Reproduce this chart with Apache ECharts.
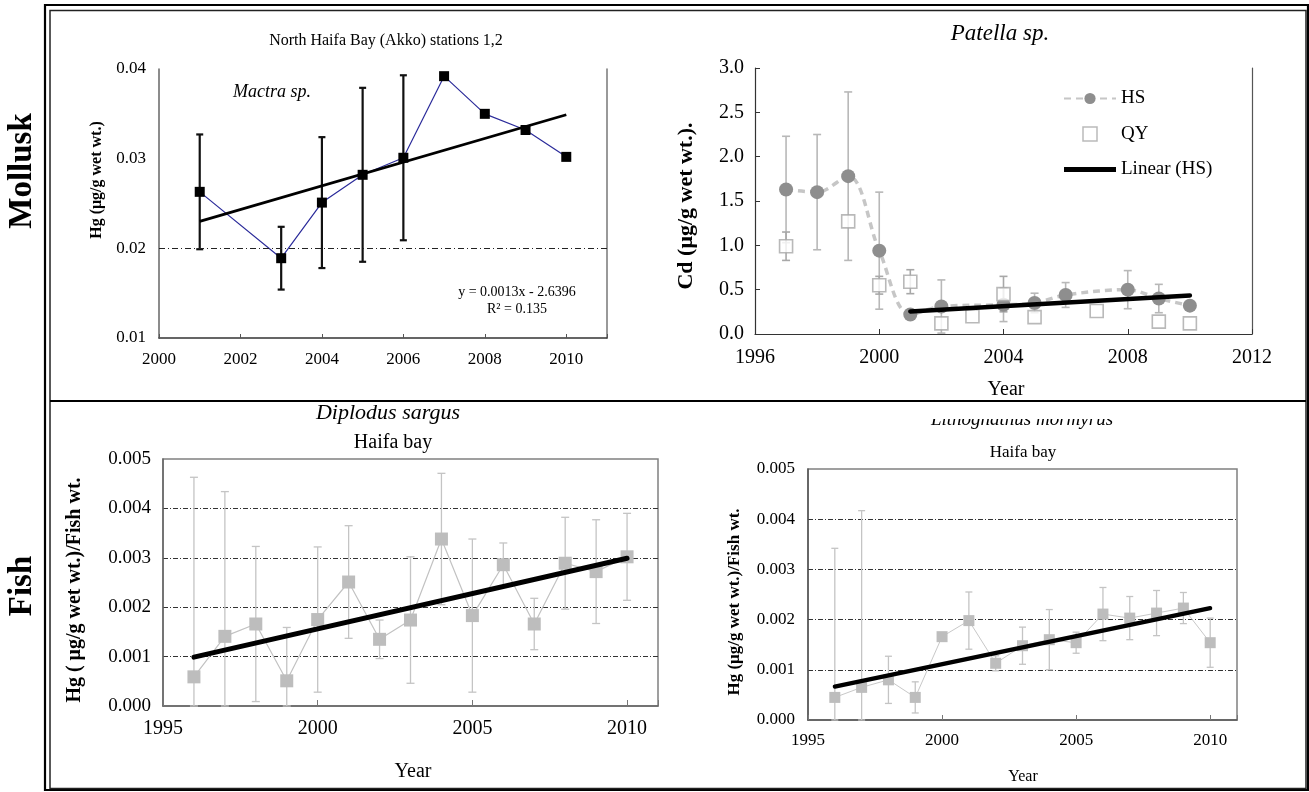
<!DOCTYPE html>
<html>
<head>
<meta charset="utf-8">
<title>Hg / Cd trends - Mollusk and Fish</title>
<script src="https://cdn.jsdelivr.net/npm/echarts@6/dist/echarts.min.js"></script>
<style>
    html, body { margin: 0; padding: 0; background: #fff; }
    #chart { width: 1309px; height: 792px; }
</style>
</head>
<body>
<div id="chart"></div>
<script>
    // Mactra sp. - North Haifa Bay (Akko) stations 1,2
    var mactraYears = [2001, 2003, 2004, 2005, 2006, 2007, 2008, 2009, 2010];
    var mactraHg    = [0.0263, 0.0189, 0.0251, 0.0282, 0.0301, 0.0392, 0.0350, 0.0332, 0.0302];
    var mactraSd    = [0.0064, 0.0035, 0.0073, 0.0097, 0.0092, null, null, null, null];
    var mactraTrend = [[2001, 0.0230], [2010, 0.0349]];

    // Patella sp. - Cd
    var hsYears = [1997, 1998, 1999, 2000, 2001, 2002, 2004, 2005, 2006, 2008, 2009, 2010];
    var hsCd    = [1.63, 1.60, 1.78, 0.94, 0.22, 0.31, 0.33, 0.35, 0.44, 0.50, 0.40, 0.32];
    var hsSd    = [0.60, 0.65, 0.95, 0.66, null, 0.30, 0.19, 0.11, 0.14, 0.215, 0.16, null];
    var qyYears = [1997, 1999, 2000, 2001, 2002, 2003, 2004, 2005, 2007, 2009, 2010];
    var qyCd    = [0.99, 1.27, 0.55, 0.59, 0.12, 0.20, 0.45, 0.19, 0.26, 0.14, 0.12];
    var qySd    = [0.16, null, 0.10, 0.135, null, null, 0.20, null, null, null, null];
    var hsTrend = [[2001, 0.255], [2010, 0.435]];

    // Fish - Haifa bay
    var fishYears = [1996, 1997, 1998, 1999, 2000, 2001, 2002, 2003, 2004, 2005, 2006, 2007, 2008, 2009, 2010];
    var sargusHg  = [0.00059, 0.00141, 0.00166, 0.00051, 0.00175, 0.00251, 0.00135, 0.00174, 0.00338, 0.00183, 0.00286, 0.00166, 0.00289, 0.00272, 0.00302];
    var sargusSd  = [0.00404, 0.00293, 0.00157, 0.00108, 0.00147, 0.00114, 0.00039, 0.00128, 0.00133, 0.00155, 0.00044, 0.00052, 0.00093, 0.00105, 0.00088];
    var sargusTrend = [[1996, 0.00099], [2010, 0.00299]];
    var mormyrusHg = [0.00045, 0.00065, 0.00080, 0.00045, 0.00166, 0.00198, 0.00113, 0.00148, 0.00160, 0.00154, 0.00211, 0.00203, 0.00213, 0.00223, 0.00154];
    var mormyrusSd = [0.00297, 0.00352, 0.00047, 0.00031, null, 0.00057, 0.00015, 0.00037, 0.00060, 0.00021, 0.00053, 0.00043, 0.00045, 0.00031, 0.00049];
    var mormyrusTrend = [[1996, 0.000665], [2010, 0.002228]];

    var FONT = '"Liberation Serif", "DejaVu Serif", serif';

    function pairs(xs, ys) {
        var out = [];
        for (var i = 0; i < xs.length; i++) {
            if (ys[i] != null) out.push([xs[i], ys[i]]);
        }
        return out;
    }

    // [x, low, high] for error bars, low clipped to the axis bottom
    function errData(xs, ys, sd, floor) {
        var out = [];
        for (var i = 0; i < xs.length; i++) {
            if (sd[i] == null || ys[i] == null) continue;
            out.push([xs[i], Math.max(floor, ys[i] - sd[i]), ys[i] + sd[i]]);
        }
        return out;
    }

    function errRender(capW, color, width) {
        return function (params, api) {
            var x = api.value(0);
            var top = api.coord([x, api.value(2)]);
            var bot = api.coord([x, api.value(1)]);
            var st = { stroke: color, lineWidth: width };
            return {
                type: 'group',
                children: [
                    { type: 'line', shape: { x1: top[0], y1: top[1], x2: bot[0], y2: bot[1] }, style: st },
                    { type: 'line', shape: { x1: top[0] - capW / 2, y1: top[1], x2: top[0] + capW / 2, y2: top[1] }, style: st },
                    { type: 'line', shape: { x1: bot[0] - capW / 2, y1: bot[1], x2: bot[0] + capW / 2, y2: bot[1] }, style: st }
                ]
            };
        };
    }

    function yearLabel(step, start) {
        return function (v) { return ((v - start) % step === 0) ? String(v) : ''; };
    }

    function txt(x, y, text, font, extra) {
        var el = {
            type: 'text', x: x, y: y, z: 50,
            style: {
                text: text, font: font, fill: '#000',
                align: 'center', verticalAlign: 'middle',
                textAlign: 'center', textVerticalAlign: 'middle'
            }
        };
        if (extra) { for (var k in extra) el[k] = extra[k]; }
        return el;
    }

    var chartDom = document.getElementById('chart');
    var myChart = echarts.init(chartDom, null, { renderer: 'canvas' });

    var axisText = function (size) { return { fontFamily: FONT, fontSize: size, color: '#000' }; };

    var option = {
        animation: false,
        backgroundColor: '#fff',
        legend: {
            data: [
                { name: 'HS' },
                { name: 'QY', icon: 'path://M0,0L10,0L10,10L0,10Z', itemStyle: { color: '#fff', borderColor: '#a8a8a8', borderWidth: 1.5 } },
                { name: 'Linear (HS)', icon: 'path://M0,0L52,0L52,5L0,5Z', itemStyle: { color: '#000', borderWidth: 0 } }
            ],
            orient: 'vertical',
            left: 1058,
            top: 84,
            itemWidth: 52,
            itemHeight: 14,
            itemGap: 16.5,
            selectedMode: false,
            textStyle: { fontFamily: FONT, fontSize: 19, color: '#000', lineHeight: 14 }
        },
        grid: [
            { left: 159, top: 69, width: 448, height: 269 },
            { left: 755, top: 68, width: 497, height: 266 },
            { left: 163, top: 459, width: 495, height: 247, show: true, borderColor: '#808080', borderWidth: 1.5, backgroundColor: 'transparent' },
            { left: 808, top: 469, width: 429, height: 251, show: true, borderColor: '#808080', borderWidth: 1.5, backgroundColor: 'transparent' }
        ],
        xAxis: [
            {
                gridIndex: 0, type: 'value', min: 2000, max: 2011, interval: 2,
                axisLine: { lineStyle: { color: '#333', width: 1.5 } },
                axisTick: { inside: true, length: 4, lineStyle: { color: '#555' } },
                axisLabel: Object.assign(axisText(17), { margin: 13, formatter: yearLabel(2, 2000) }),
                splitLine: { show: false }
            },
            {
                gridIndex: 1, type: 'value', min: 1996, max: 2012, interval: 4,
                axisLine: { lineStyle: { color: '#333', width: 1.2 } },
                axisTick: { inside: true, length: 5, lineStyle: { color: '#333' } },
                axisLabel: Object.assign(axisText(20), { margin: 14, formatter: yearLabel(4, 1996) }),
                splitLine: { show: false }
            },
            {
                gridIndex: 2, type: 'value', min: 1995, max: 2011, interval: 5,
                axisLine: { lineStyle: { color: '#666', width: 1.5 } },
                axisTick: { inside: true, length: 6, lineStyle: { color: '#777' } },
                axisLabel: Object.assign(axisText(20), { margin: 13, formatter: yearLabel(5, 1995) }),
                splitLine: { show: false }
            },
            {
                gridIndex: 3, type: 'value', min: 1995, max: 2011, interval: 5,
                axisLine: { lineStyle: { color: '#555', width: 1.5 } },
                axisTick: { inside: true, length: 5, lineStyle: { color: '#777' } },
                axisLabel: Object.assign(axisText(17), { margin: 12, formatter: yearLabel(5, 1995) }),
                splitLine: { show: false }
            }
        ],
        yAxis: [
            {
                gridIndex: 0, type: 'value', min: 0.01, max: 0.04, interval: 0.01,
                axisLine: { show: true, lineStyle: { color: '#666', width: 1.5 } },
                axisTick: { show: false },
                axisLabel: Object.assign(axisText(17), { margin: 13, formatter: function (v) { return v.toFixed(2); } }),
                splitLine: { show: false }
            },
            {
                gridIndex: 1, type: 'value', min: 0, max: 3, interval: 0.5,
                axisLine: { show: true, lineStyle: { color: '#333', width: 1.2 } },
                axisTick: { show: true, inside: true, length: 5, lineStyle: { color: '#333' } },
                axisLabel: Object.assign(axisText(20), { margin: 11, formatter: function (v) { return v.toFixed(1); } }),
                splitLine: { show: false }
            },
            {
                gridIndex: 2, type: 'value', min: 0, max: 0.005, interval: 0.001,
                axisLine: { show: true, lineStyle: { color: '#666', width: 1.5 } },
                axisTick: { show: false },
                axisLabel: Object.assign(axisText(19), { margin: 12, formatter: function (v) { return v.toFixed(3); } }),
                splitLine: { show: true, showMinLine: false, showMaxLine: false, lineStyle: { color: '#333', width: 1, type: [5, 2, 1, 2] } }
            },
            {
                gridIndex: 3, type: 'value', min: 0, max: 0.005, interval: 0.001,
                axisLine: { show: true, lineStyle: { color: '#555', width: 1.5 } },
                axisTick: { show: false },
                axisLabel: Object.assign(axisText(17), { margin: 13, formatter: function (v) { return v.toFixed(3); } }),
                splitLine: { show: true, showMinLine: false, showMaxLine: false, lineStyle: { color: '#333', width: 1, type: [5, 2, 1, 2] } }
            },
            {
                gridIndex: 0, type: 'value', position: 'right', min: 0.01, max: 0.04,
                axisLine: { show: true, lineStyle: { color: '#777', width: 1.5 } },
                axisTick: { show: false }, axisLabel: { show: false }, splitLine: { show: false }
            },
            {
                gridIndex: 1, type: 'value', position: 'right', min: 0, max: 3,
                axisLine: { show: true, lineStyle: { color: '#555', width: 1.2 } },
                axisTick: { show: false }, axisLabel: { show: false }, splitLine: { show: false }
            }
        ],
        series: [
            // ---- Mactra sp.
            {
                name: 'mactraErr', type: 'custom', xAxisIndex: 0, yAxisIndex: 0, z: 3, silent: true,
                renderItem: errRender(7, '#111', 2.2),
                encode: { x: 0, y: [1, 2] },
                data: errData(mactraYears, mactraHg, mactraSd, 0.01)
            },
            {
                name: 'Mactra sp.', type: 'line', xAxisIndex: 0, yAxisIndex: 0, z: 4,
                symbol: 'rect', symbolSize: 10,
                itemStyle: { color: '#000' },
                lineStyle: { color: '#2b2b9a', width: 1.2 },
                data: pairs(mactraYears, mactraHg)
            },
            {
                name: 'mactraTrend', type: 'line', xAxisIndex: 0, yAxisIndex: 0, z: 5,
                symbol: 'none',
                lineStyle: { color: '#000', width: 2.8 },
                data: mactraTrend,
                markLine: {
                    silent: true, symbol: 'none', label: { show: false },
                    lineStyle: { color: '#222', width: 1, type: [6, 3, 1, 3] },
                    data: [{ yAxis: 0.02 }]
                }
            },
            // ---- Patella sp.
            {
                name: 'hsErr', type: 'custom', xAxisIndex: 1, yAxisIndex: 1, z: 2, silent: true,
                renderItem: errRender(8, '#b8b8b8', 1.6),
                encode: { x: 0, y: [1, 2] },
                data: errData(hsYears, hsCd, hsSd, 0)
            },
            {
                name: 'qyErr', type: 'custom', xAxisIndex: 1, yAxisIndex: 1, z: 2, silent: true,
                renderItem: errRender(8, '#a8a8a8', 1.6),
                encode: { x: 0, y: [1, 2] },
                data: errData(qyYears, qyCd, qySd, 0)
            },
            {
                name: 'HS', type: 'line', xAxisIndex: 1, yAxisIndex: 1, z: 3,
                smooth: 0.35,
                symbol: 'circle', symbolSize: 14,
                itemStyle: { color: '#8e8e8e' },
                lineStyle: { color: '#c6c6c6', width: 3.5, type: [7, 5] },
                data: pairs(hsYears, hsCd)
            },
            {
                name: 'QY', type: 'scatter', xAxisIndex: 1, yAxisIndex: 1, z: 4,
                symbol: 'rect', symbolSize: 13,
                itemStyle: { color: '#fff', borderColor: '#a8a8a8', borderWidth: 1.6 },
                data: pairs(qyYears, qyCd)
            },
            {
                name: 'Linear (HS)', type: 'line', xAxisIndex: 1, yAxisIndex: 1, z: 5,
                symbol: 'none',
                itemStyle: { color: '#000' },
                lineStyle: { color: '#000', width: 4.5, cap: 'round' },
                data: hsTrend
            },
            // ---- Diplodus sargus
            {
                name: 'sargusErr', type: 'custom', xAxisIndex: 2, yAxisIndex: 2, z: 2, silent: true,
                renderItem: errRender(8, '#c4c4c4', 1.3),
                encode: { x: 0, y: [1, 2] },
                data: errData(fishYears, sargusHg, sargusSd, 0)
            },
            {
                name: 'Diplodus sargus', type: 'line', xAxisIndex: 2, yAxisIndex: 2, z: 3,
                symbol: 'rect', symbolSize: 13,
                itemStyle: { color: '#bdbdbd' },
                lineStyle: { color: '#c2c2c2', width: 1.2 },
                data: pairs(fishYears, sargusHg)
            },
            {
                name: 'sargusTrend', type: 'line', xAxisIndex: 2, yAxisIndex: 2, z: 5,
                symbol: 'none',
                lineStyle: { color: '#000', width: 5, cap: 'round' },
                data: sargusTrend
            },
            // ---- Lithognathus mormyrus
            {
                name: 'mormyrusErr', type: 'custom', xAxisIndex: 3, yAxisIndex: 3, z: 2, silent: true,
                renderItem: errRender(7, '#c4c4c4', 1.3),
                encode: { x: 0, y: [1, 2] },
                data: errData(fishYears, mormyrusHg, mormyrusSd, 0)
            },
            {
                name: 'Lithognathus mormyrus', type: 'line', xAxisIndex: 3, yAxisIndex: 3, z: 3,
                symbol: 'rect', symbolSize: 11,
                itemStyle: { color: '#bdbdbd' },
                lineStyle: { color: '#c8c8c8', width: 1 },
                data: pairs(fishYears, mormyrusHg)
            },
            {
                name: 'mormyrusTrend', type: 'line', xAxisIndex: 3, yAxisIndex: 3, z: 5,
                symbol: 'none',
                lineStyle: { color: '#000', width: 4.2, cap: 'round' },
                data: mormyrusTrend
            }
        ],
        graphic: [
            // outer double frame and row divider
            { type: 'rect', z: 1, shape: { x: 45, y: 5, width: 1263, height: 785 }, style: { fill: 'none', stroke: '#000', lineWidth: 2.2 } },
            { type: 'rect', z: 1, shape: { x: 50, y: 10.5, width: 1256, height: 778 }, style: { fill: 'none', stroke: '#222', lineWidth: 1.5 } },
            { type: 'line', z: 1, shape: { x1: 50, y1: 401, x2: 1306, y2: 401 }, style: { stroke: '#000', lineWidth: 2 } },

            // row labels
            txt(22, 171, 'Mollusk', 'bold 33px ' + FONT, { rotation: Math.PI / 2 }),
            txt(22, 586, 'Fish', 'bold 33px ' + FONT, { rotation: Math.PI / 2 }),

            // Mactra panel texts
            txt(386, 41, 'North Haifa Bay (Akko) stations 1,2', '16px ' + FONT),
            txt(272, 92, 'Mactra sp.', 'italic 18px ' + FONT),
            txt(517, 292, 'y = 0.0013x - 2.6396', '14px ' + FONT),
            txt(517, 309, 'R² = 0.135', '14px ' + FONT),
            txt(97, 180, 'Hg (μg/g wet wt.)', 'bold 16px ' + FONT, { rotation: Math.PI / 2 }),

            // Patella panel texts
            txt(1000, 34, 'Patella sp.', 'italic 23px ' + FONT),
            txt(686, 206, 'Cd (μg/g wet wt.).', 'bold 22px ' + FONT, { rotation: Math.PI / 2 }),
            txt(1006, 390, 'Year', '20px ' + FONT),

            // Diplodus panel texts
            txt(388, 413, 'Diplodus sargus', 'italic 22px ' + FONT),
            txt(393, 443, 'Haifa bay', '20px ' + FONT),
            txt(75, 590, 'Hg ( μg/g wet wt.)/Fish wt.', 'bold 20px ' + FONT, { rotation: Math.PI / 2 }),
            txt(413, 772, 'Year', '20px ' + FONT),

            // Lithognathus panel texts (title is cut off at the top in the source)
            txt(1022, 420, 'Lithognathus mormyrus', 'italic 19px ' + FONT),
            { type: 'rect', z: 60, shape: { x: 700, y: 403, width: 600, height: 16 }, style: { fill: '#fff', stroke: 'none' } },
            txt(1023, 453, 'Haifa bay', '17px ' + FONT),
            txt(735, 602, 'Hg (μg/g wet wt.)/Fish wt.', 'bold 17px ' + FONT, { rotation: Math.PI / 2 }),
            txt(1023, 777, 'Year', '16px ' + FONT)
        ]
    };

    myChart.setOption(option);
    window.onresize = function () { myChart.resize(); };
</script>
</body>
</html>
